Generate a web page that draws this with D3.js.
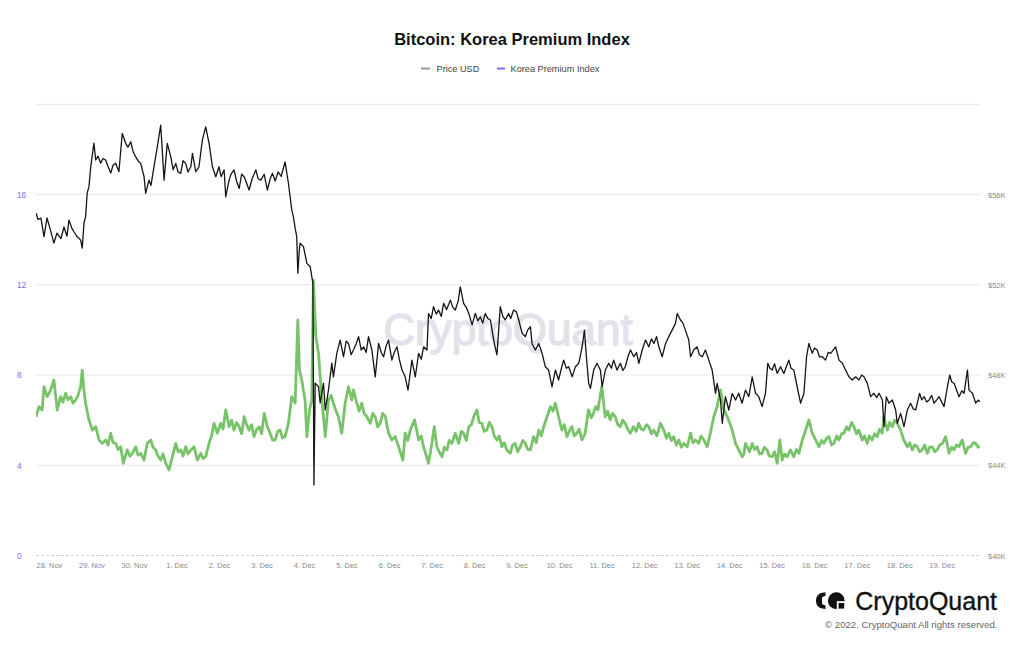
<!DOCTYPE html>
<html><head><meta charset="utf-8">
<script src="https://cdn.jsdelivr.net/npm/d3@7"></script>
<style>body{margin:0;background:#fff}svg{display:block}text{font-family:"Liberation Sans",Arial,sans-serif}</style>
</head><body><svg id="c" width="1024" height="645"></svg>
<script>
const chartTitle = "Bitcoin: Korea Premium Index";
const seriesNames = ["Price USD", "Korea Premium Index"];
// time = hours since 2021-11-28 00:00 UTC
const baseDate = Date.UTC(2021, 10, 28, 0, 0);
const priceUSD = [[-7.3,55180],[-6.2,54900],[-4.5,54950],[-2.8,54130],[-1.1,54960],[0.6,54500],[2.8,53850],[4.5,54290],[6.8,54050],[8.5,54560],[10.2,54150],[11.3,54870],[13.0,54500],[14.1,54350],[15.8,54150],[17.9,53980],[18.8,53630],[19.8,54740],[20.7,55020],[21.6,56070],[22.6,56350],[23.6,57230],[25.4,58280],[26.4,57530],[27.7,57700],[29.2,57390],[30.5,57600],[32.0,57530],[33.3,57250],[34.9,56950],[36.2,57300],[37.7,57390],[39.5,57010],[41.4,58710],[43.3,58270],[44.6,58100],[46.2,58340],[47.5,57900],[49.0,57670],[50.3,57500],[51.8,57380],[53.7,56790],[54.6,56050],[56.5,56640],[57.6,56400],[59.3,57230],[61.2,58120],[63.1,59080],[65.0,56640],[66.8,58270],[68.8,57670],[70.1,57100],[71.6,57380],[72.9,57000],[74.4,56940],[75.7,57500],[77.2,57380],[78.5,57000],[80.1,57230],[81.0,57820],[82.9,57010],[84.7,57230],[86.6,58410],[88.5,59000],[90.4,58270],[92.3,57230],[94.2,56790],[96.0,57230],[97.2,56800],[98.9,57090],[99.8,55900],[101.7,56640],[102.8,56900],[104.5,57090],[105.9,56600],[107.4,56270],[108.8,56900],[110.2,56790],[111.6,56500],[113.0,56200],[114.7,56700],[116.8,57090],[118.1,56700],[119.6,56640],[121.5,56900],[123.3,56200],[124.9,56700],[126.2,56940],[127.7,56600],[129.4,57000],[131.1,56800],[133.3,57450],[135.2,56500],[137.1,55310],[138.0,55020],[139.0,54500],[139.9,54130],[140.5,52510],[141.3,53500],[141.8,53840],[143.7,53690],[145.6,52950],[147.5,52800],[149.0,52060],[149.6,43120],[150.3,47640],[152.2,47480],[153.1,46760],[155.0,47640],[156.0,46450],[157.8,47330],[159.7,48530],[160.6,47920],[162.5,48960],[164.4,49550],[166.3,48810],[167.8,49500],[169.1,49400],[170.6,48900],[171.9,49110],[173.5,49400],[174.8,49700],[176.3,49100],[177.6,49250],[179.1,49000],[180.4,49700],[182.3,49110],[184.2,47920],[186.1,49400],[187.6,49000],[188.9,48810],[190.4,49300],[191.7,49550],[193.6,48660],[194.9,49000],[196.5,49250],[197.8,48700],[199.3,48220],[201.1,47920],[202.7,47330],[204.9,48660],[206.8,47920],[208.7,48960],[210.2,48700],[211.5,49250],[213.4,49110],[214.3,50730],[215.8,50500],[217.1,51030],[218.7,50700],[219.9,50880],[221.5,50600],[222.8,51180],[224.5,50900],[226.6,51320],[228.0,51000],[229.4,50880],[231.1,51300],[232.2,51910],[234.1,51180],[235.6,51000],[237.0,50730],[238.9,50220],[240.7,50730],[242.1,50400],[243.5,50580],[244.9,50300],[246.3,50730],[247.8,50500],[249.2,50440],[251.4,49400],[252.9,48890],[254.8,51030],[256.2,50600],[257.6,50440],[259.5,50730],[260.7,50500],[262.3,50880],[263.9,50800],[265.2,50440],[267.1,49850],[268.9,49700],[270.3,50000],[271.8,50140],[272.7,49400],[274.6,49110],[276.5,49400],[278.4,48960],[280.2,48370],[282.1,48220],[284.0,47480],[285.9,48220],[287.7,47780],[289.3,48300],[290.6,48660],[292.1,48300],[293.4,48370],[295.4,47920],[297.2,48370],[299.1,48520],[301.0,49250],[302.3,49990],[303.4,48810],[304.7,47630],[305.7,47410],[307.5,48220],[309.4,48520],[311.3,48220],[312.3,47480],[314.1,48220],[316.0,48520],[317.5,48300],[318.8,48660],[320.7,48220],[322.6,48520],[324.0,48200],[325.4,48370],[326.8,48800],[328.3,49110],[330.2,48810],[331.7,49000],[333.0,48520],[334.9,49110],[336.8,49550],[338.6,49250],[340.2,49600],[341.5,49400],[343.0,49700],[344.3,49250],[346.2,48810],[348.1,49400],[349.9,49700],[351.8,49990],[353.7,50290],[354.7,50730],[356.5,50440],[357.9,50300],[359.3,49990],[361.2,49550],[362.2,48810],[364.0,49110],[365.9,49250],[367.2,48900],[368.8,48810],[370.6,49110],[372.5,48660],[374.4,48220],[376.3,47190],[377.2,47630],[379.1,46890],[380.1,45860],[381.9,47040],[383.8,46450],[385.7,47190],[387.6,46890],[389.4,47190],[391.3,46750],[393.2,47330],[395.1,47040],[397.0,47920],[398.9,47190],[400.7,47040],[402.6,46600],[404.5,47190],[405.8,48520],[407.0,48300],[408.3,48220],[409.6,48500],[411.1,48070],[413.0,48370],[414.9,48070],[416.4,48400],[417.7,48660],[418.9,48300],[420.5,48220],[422.4,47480],[424.3,46750],[426.2,47190],[427.7,48810],[429.0,49400],[430.9,48960],[432.2,49200],[433.7,49110],[435.0,48800],[436.6,48810],[438.4,48660],[439.9,49000],[441.3,48960],[442.7,49100],[444.1,49250],[446.0,48660],[447.9,48520],[449.7,48220],[451.6,47920],[453.5,47780],[455.4,47920],[457.3,47780],[458.8,48000],[460.1,47920],[462.0,47630],[463.9,47040],[465.7,47190],[467.3,47000],[468.6,47190],[470.5,46890],[471.4,45710],[472.7,47040],[474.2,46750],[476.1,46890],[478.0,46450],[478.9,45860],[480.8,46300],[482.7,45710],[484.6,46450],[486.4,46750],[487.9,46500],[489.3,46450],[491.5,47190],[492.7,46900],[494.1,47040],[495.5,46800],[496.9,46890],[498.3,47100],[499.7,46750],[501.2,46900],[502.5,47040],[504.0,46800],[505.3,46600],[507.2,47480],[508.5,48000],[509.6,47700],[511.0,47630],[512.5,47300],[513.8,47040],[515.3,47300],[516.6,47190],[518.5,48220],[519.4,47330],[521.3,47190],[523.2,46750],[524.5,46890],[525.6,46810]];
const koreaPremium = [[-7.3,6.15],[-5.6,6.60],[-3.8,6.45],[-2.8,7.48],[-1.0,7.04],[1.0,7.34],[2.8,7.78],[4.7,6.45],[6.6,7.04],[7.9,6.80],[9.4,7.19],[10.7,6.90],[12.3,7.04],[13.6,6.75],[15.1,6.89],[16.4,7.10],[17.9,7.48],[18.8,8.22],[19.8,7.30],[20.7,6.75],[22.6,6.01],[24.5,5.56],[26.4,5.71],[28.3,5.12],[30.1,4.97],[32.0,5.12],[33.3,4.90],[34.9,5.42],[36.2,5.00],[37.7,4.97],[39.0,4.70],[40.5,4.82],[42.0,4.09],[44.2,4.68],[45.8,4.40],[47.1,4.53],[49.0,4.82],[50.3,4.45],[51.8,4.53],[53.7,4.23],[55.5,4.97],[57.5,5.12],[58.8,4.80],[60.3,4.68],[61.6,4.40],[63.1,4.23],[64.4,4.50],[65.9,4.09],[67.8,3.79],[69.7,4.38],[71.6,4.97],[72.9,4.60],[74.4,4.68],[75.7,4.40],[77.2,4.82],[78.5,4.50],[80.1,4.68],[81.9,4.82],[83.8,4.23],[85.7,4.53],[87.0,4.30],[88.5,4.38],[90.4,4.97],[91.8,5.30],[93.2,5.86],[95.1,5.42],[97.0,5.86],[98.3,5.60],[99.8,6.45],[101.7,5.71],[103.1,6.00],[104.5,5.56],[105.9,5.90],[107.4,5.71],[108.8,5.40],[110.2,6.15],[111.6,5.80],[113.0,5.56],[114.4,5.80],[115.8,5.27],[117.3,5.60],[118.7,5.71],[120.1,5.40],[121.5,6.30],[123.3,5.71],[124.9,5.42],[126.2,5.12],[127.7,5.12],[129.1,5.50],[130.5,5.56],[131.9,5.20],[133.3,5.27],[135.2,5.86],[137.1,7.04],[139.0,6.75],[140.5,10.44],[141.4,8.22],[142.7,7.78],[144.6,6.89],[145.6,5.27],[147.1,6.45],[148.4,6.89],[149.3,12.21],[150.7,9.70],[152.2,8.96],[153.1,7.93],[154.6,6.45],[156.0,5.27],[157.8,6.89],[159.3,7.10],[160.6,6.75],[162.1,6.40],[163.4,6.15],[165.3,5.42],[167.2,6.75],[169.1,7.48],[171.0,6.89],[171.9,7.34],[173.8,6.75],[175.1,6.40],[176.6,6.75],[177.9,6.30],[179.5,6.15],[181.4,5.86],[182.8,6.30],[184.2,6.15],[185.6,5.70],[187.0,5.86],[188.4,6.30],[189.9,6.15],[191.7,5.42],[193.6,5.12],[195.5,5.27],[197.4,4.82],[199.8,4.23],[201.1,5.42],[202.6,5.10],[204.0,5.56],[206.4,6.01],[208.7,5.12],[210.2,5.30],[211.5,4.82],[214.3,4.09],[216.2,4.97],[217.5,5.71],[219.0,4.82],[220.3,4.60],[221.9,4.38],[223.2,4.80],[224.7,4.68],[226.0,5.10],[227.5,4.97],[229.4,5.42],[231.3,4.97],[232.8,5.50],[234.1,5.42],[235.6,5.10],[237.0,5.71],[238.5,5.80],[239.8,6.15],[241.6,6.45],[242.9,5.90],[244.4,5.86],[245.7,5.50],[247.2,5.56],[248.6,5.90],[250.1,5.71],[251.4,5.30],[252.9,5.12],[254.2,5.30],[255.7,4.82],[257.0,5.00],[258.5,4.68],[260.4,4.53],[261.8,4.90],[263.2,4.97],[264.6,4.60],[266.1,4.82],[267.5,5.10],[268.9,4.97],[270.3,4.70],[271.8,4.68],[273.6,5.27],[275.1,5.00],[276.5,5.56],[278.0,5.30],[279.3,5.71],[281.2,6.15],[283.1,6.60],[284.5,6.40],[285.9,6.75],[287.7,6.15],[289.6,5.56],[290.9,5.80],[292.4,5.27],[293.7,5.50],[295.2,5.71],[296.5,5.30],[298.0,5.42],[299.3,5.60],[300.9,5.12],[302.7,5.42],[304.6,6.45],[306.1,6.10],[307.4,6.30],[308.6,6.60],[309.9,6.45],[312.1,7.48],[314.0,6.15],[315.4,6.40],[316.8,6.01],[318.2,6.30],[319.7,6.15],[321.1,5.80],[322.5,5.71],[323.9,6.00],[325.3,5.86],[326.7,5.60],[328.2,5.42],[330.0,5.71],[331.6,5.50],[332.9,5.86],[334.4,5.60],[335.7,5.56],[337.3,5.80],[338.6,5.71],[340.1,5.40],[341.4,5.56],[343.2,5.30],[345.2,5.86],[347.1,5.56],[348.6,5.20],[349.9,5.42],[351.4,5.10],[352.7,5.27],[354.2,4.90],[355.6,5.12],[357.1,4.80],[358.4,4.97],[360.3,4.82],[362.2,5.42],[363.6,5.00],[365.0,5.12],[366.8,4.97],[368.1,5.30],[369.7,5.12],[371.6,4.82],[373.4,5.42],[375.3,6.15],[377.2,6.60],[379.1,7.34],[381.0,6.45],[382.9,6.15],[384.2,5.90],[385.7,5.56],[387.6,4.97],[389.4,4.68],[391.3,4.38],[392.3,4.50],[393.2,4.97],[394.2,4.82],[395.5,4.60],[397.0,4.97],[398.3,4.70],[399.8,4.82],[401.1,4.50],[402.6,4.53],[403.9,4.80],[405.4,4.68],[406.7,4.40],[408.3,4.38],[409.6,4.60],[411.1,4.09],[412.6,5.12],[413.9,4.23],[415.2,4.50],[416.7,4.38],[418.6,4.68],[420.5,4.38],[422.0,4.70],[423.4,4.53],[425.3,5.12],[427.2,5.56],[429.0,6.01],[430.9,5.42],[432.8,5.12],[434.7,4.82],[436.2,5.10],[437.5,4.97],[439.0,5.20],[440.3,5.27],[441.8,4.90],[443.1,4.97],[444.7,5.30],[446.0,5.12],[447.5,5.40],[448.8,5.42],[450.3,5.70],[451.6,5.56],[453.1,5.90],[454.4,5.71],[455.9,5.40],[457.2,5.56],[459.1,5.12],[460.4,5.30],[461.9,4.97],[463.2,5.30],[464.7,5.12],[466.1,5.40],[467.6,5.27],[468.9,5.60],[470.4,5.42],[471.3,6.15],[473.3,5.56],[474.6,5.90],[476.1,5.71],[477.4,6.00],[478.9,5.86],[480.8,5.56],[482.6,5.12],[484.6,4.82],[485.9,5.00],[487.4,4.68],[488.7,4.90],[490.2,4.82],[491.5,4.60],[493.0,4.68],[494.3,4.90],[495.9,4.53],[497.2,4.80],[498.7,4.82],[500.0,4.60],[501.5,4.68],[502.9,4.90],[504.4,4.97],[506.2,5.27],[508.1,4.53],[509.6,4.80],[510.9,4.68],[512.4,4.90],[513.7,4.82],[515.6,5.12],[517.5,4.53],[518.9,4.80],[520.4,4.82],[521.8,5.00],[523.2,4.97],[524.5,4.80],[525.6,4.82]];
const premiumTicks = [0, 4, 8, 12, 16];
const premiumGrid = [4, 8, 12, 16, 20];
const priceTicks = [40000, 44000, 48000, 52000, 56000];
const premiumDomain = [0, 20];
const priceDomain = [40000, 60000];
const watermark = "CryptoQuant";
const brand = "CryptoQuant";
const copyright = "© 2022. CryptoQuant All rights reserved.";

const svg = d3.select("#c");
const L = 36, R = 980, T = 104.3, B = 555.5;
const toDate = h => new Date(baseDate + h * 3600e3);
const allH = priceUSD.map(d => d[0]).concat(koreaPremium.map(d => d[0]));
const x = d3.scaleUtc().domain(d3.extent(allH).map(toDate)).range([L, R]);
const yL = d3.scaleLinear().domain(premiumDomain).range([B, T]);
const yR = d3.scaleLinear().domain(priceDomain).range([B, T]);

// title
svg.append("text").attr("x", 512).attr("y", 45).attr("text-anchor", "middle")
  .attr("font-size", 16.5).attr("font-weight", "bold").attr("fill", "#111").text(chartTitle);

// legend
const leg = svg.append("g").attr("font-size", 9.2).attr("fill", "#444");
leg.append("line").attr("x1", 421).attr("x2", 430).attr("y1", 68.5).attr("y2", 68.5).attr("stroke", "#9a9a9a").attr("stroke-width", 2);
leg.append("text").attr("x", 436.5).attr("y", 71.6).text(seriesNames[0]);
leg.append("line").attr("x1", 497).attr("x2", 505).attr("y1", 68.5).attr("y2", 68.5).attr("stroke", "#7b6cf6").attr("stroke-width", 2);
leg.append("text").attr("x", 510.5).attr("y", 71.6).text(seriesNames[1]);

// gridlines
svg.append("g").selectAll("line").data(premiumGrid).join("line")
  .attr("x1", L).attr("x2", R).attr("y1", d => yL(d)).attr("y2", d => yL(d))
  .attr("stroke", "#e8e8e8").attr("stroke-width", 1);
svg.append("line").attr("x1", L).attr("x2", R).attr("y1", B).attr("y2", B)
  .attr("stroke", "#cfcfcf").attr("stroke-dasharray", "3,2");

// watermark
svg.append("text").attr("x", 508).attr("y", 345).attr("text-anchor", "middle")
  .attr("font-size", 44).attr("fill", "#e2e2ea").attr("stroke", "#e2e2ea").attr("stroke-width", 1.3)
  .text(watermark);

// left axis
const gl = svg.append("g").attr("transform", "translate(17,0)")
  .call(d3.axisLeft(yL).tickValues(premiumTicks).tickSize(0).tickPadding(0));
gl.select(".domain").remove();
gl.selectAll("text").attr("text-anchor", "start").attr("x", 0).attr("dy", "0.34em")
  .attr("font-size", 8.3).attr("font-family", "Liberation Sans, Arial, sans-serif").attr("fill", "#7b6cf6");

// right axis
const gr = svg.append("g").attr("transform", "translate(988,0)")
  .call(d3.axisRight(yR).tickValues(priceTicks).tickSize(0).tickPadding(0).tickFormat(d => "$" + d / 1000 + "K"));
gr.select(".domain").remove();
gr.selectAll("text").attr("x", 0).attr("dy", "0.34em")
  .attr("font-size", 7.5).attr("font-family", "Liberation Sans, Arial, sans-serif").attr("fill", "#8a8a8a");

// bottom axis
const gb = svg.append("g").attr("transform", `translate(0,${B})`)
  .call(d3.axisBottom(x).ticks(d3.utcDay.every(1)).tickFormat(d3.utcFormat("%-d. %b")).tickSize(0).tickPadding(0));
gb.select(".domain").remove();
gb.selectAll("text").attr("y", 12).attr("dy", 0)
  .attr("font-size", 7.5).attr("font-family", "Liberation Sans, Arial, sans-serif").attr("fill", "#8a8a8a");

// series
svg.append("defs").append("clipPath").attr("id", "pc").append("rect")
  .attr("x", L).attr("y", T - 20).attr("width", R - L).attr("height", B - T + 20);
const plot = svg.append("g").attr("clip-path", "url(#pc)");
plot.append("path").datum(koreaPremium)
  .attr("d", d3.line().x(d => x(toDate(d[0]))).y(d => yL(d[1])))
  .attr("fill", "none").attr("stroke", "#78c26a").attr("stroke-width", 2.8).attr("stroke-linejoin", "round");
plot.append("path").datum(priceUSD)
  .attr("d", d3.line().x(d => x(toDate(d[0]))).y(d => yR(d[1])))
  .attr("fill", "none").attr("stroke", "#151515").attr("stroke-width", 1.3).attr("stroke-linejoin", "round");

// brand logo
const lg = svg.append("g").attr("fill", "#111");
lg.append("path").attr("d", "M825.5,592.3 A8.4,8.4 0 0 0 825.5,609.1 L825.5,605.3 A4.6,4.6 0 0 1 825.5,596.1 Z");
lg.append("path").attr("d", "M816,600.7 A8.2,8.2 0 0 1 822,592.8 L822,608.6 A8.2,8.2 0 0 1 816,600.7 Z");
lg.append("circle").attr("cx", 836.3).attr("cy", 600.7).attr("r", 8.4);
lg.append("rect").attr("x", 836.8).attr("y", 601.2).attr("width", 9).attr("height", 9).attr("fill", "#fff");
lg.append("rect").attr("x", 838.6).attr("y", 603.0).attr("width", 5.6).attr("height", 5.6).attr("fill", "#111");
svg.append("text").attr("x", 997).attr("y", 610).attr("text-anchor", "end")
  .attr("font-size", 25).attr("fill", "#111").attr("stroke", "#111").attr("stroke-width", 0.35).text(brand);
svg.append("text").attr("x", 997.5).attr("y", 628).attr("text-anchor", "end")
  .attr("font-size", 9.6).attr("fill", "#666").text(copyright);
</script></body></html>
